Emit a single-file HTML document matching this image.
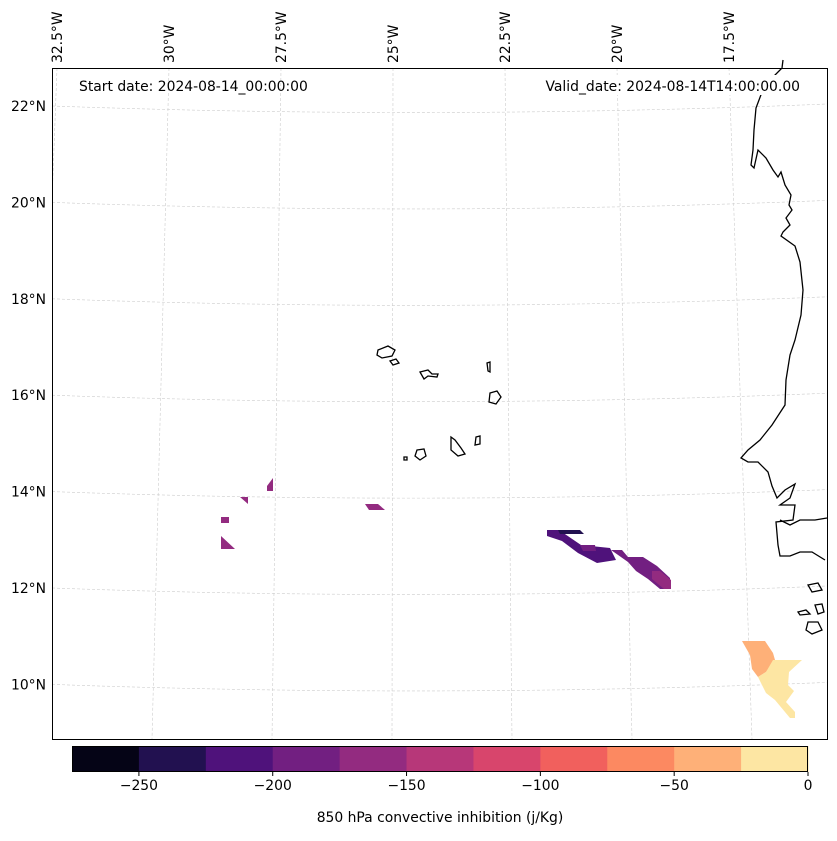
<!DOCTYPE html>
<html><head><meta charset="utf-8"><style>
body{margin:0;background:#fff;font-family:"Liberation Sans","DejaVu Sans",sans-serif}
svg text{font-family:"DejaVu Sans","Liberation Sans",sans-serif;font-size:13.9px;fill:#000}
</style></head><body>
<svg id="c" width="837" height="836">
<defs><clipPath id="mapclip"><rect x="52" y="68" width="776" height="672"/></clipPath></defs>
<rect x="0" y="0" width="837" height="836" fill="#fff"/>
<g id="grid" clip-path="url(#mapclip)"></g>
<g id="patches"></g>
<g fill="none" stroke="#000" stroke-width="1.3" clip-path="url(#mapclip)">
<path d="M782,68 L770,80 L762,92 L756,108 L754,130 L753,150 L751,165 L754,168 L758,150 L766,158 L773,170 L778,177 L781,172 L785,185 L791,195 L789,205 L792,210 L786,218 L790,225 L783,232 L781,236 L795,246 L800,262 L803,290 L801,315 L795,340 L790,355 L786,380 L785,405 L772,425 L760,440 L748,450 L741,458 L748,462 L758,462 L768,472 L772,486 L777,498 L785,490 L795,484 L790,498 L780,505 L795,505 L793,520 L776,522 L778,545 L780,556 L790,556 L800,552 L812,552 L825,560 M827,518 L815,520 L800,520 L790,525 L780,520 M808,585 L818,583 L822,590 L812,592 Z"/>
<path d="M798,612 L806,610 L810,614 L800,615 Z M808,622 L818,622 L822,630 L812,634 L806,630 Z M815,605 L822,604 L824,612 L818,614 Z"/>
<path d="M378,350 L388,346 L395,350 L392,356 L382,358 L377,355 Z"/>
<path d="M390,361 L396,359 L399,363 L393,365 Z"/>
<path d="M420,372 L428,370 L432,374 L438,374 L437,377 L428,376 L424,379 Z"/>
<path d="M487,363 L490,362 L490,372 L488,371 Z"/>
<path d="M490,393 L497,391 L501,397 L496,404 L489,402 Z"/>
<path d="M451,437 L455,440 L461,448 L465,454 L458,456 L451,450 Z"/>
<path d="M476,437 L480,436 L480,444 L475,445 Z"/>
<path d="M417,450 L424,449 L426,456 L420,460 L415,456 Z"/>
<path d="M404,457 L407,457 L407,460 L404,460 Z"/>
</g>
<line x1="783" y1="60" x2="782" y2="68" stroke="#000" stroke-width="1.3"/>
<rect x="52.5" y="68.5" width="775" height="671" fill="none" stroke="#000" stroke-width="1"/>
<text x="79" y="91">Start date: 2024-08-14_00:00:00</text>
<rect x="542" y="75" width="262" height="20" fill="#fff"/>
<text x="800" y="91" text-anchor="end">Valid_date: 2024-08-14T14:00:00.00</text>
<g id="labels"></g>
<g id="cbar"></g>
<text x="440" y="822" text-anchor="middle">850 hPa convective inhibition (j/Kg)</text>
</svg>
<script>
const NS="http://www.w3.org/2000/svg";
const latTicks=[22,20,18,16,14,12,10];
const latLabels=["22°N","20°N","18°N","16°N","14°N","12°N","10°N"];
const lonTicks=[-32.5,-30,-27.5,-25,-22.5,-20,-17.5];
const lonLabels=["32.5°W","30°W","27.5°W","25°W","22.5°W","20°W","17.5°W"];
const cbLevels=[-275,-250,-225,-200,-175,-150,-125,-100,-75,-50,-25,0];
const cbColors=["#050416","#221150","#4f127b","#721f81","#932b80","#b73779","#d8456c","#f1605d","#fc8961","#feb078","#fde6a3"];
const cbTicks=[-250,-200,-150,-100,-50,0];
function mk(t,a,p){const e=document.createElementNS(NS,t);for(const k in a)e.setAttribute(k,a[k]);p.appendChild(e);return e;}
const yLat=l=>106+(22-l)*48.2;
const xTop=lo=>393+(lo+25)*44.8;
const xBot=lo=>392+(lo+25)*48;
const g=document.getElementById('grid');
latTicks.forEach((l,i)=>{
 const y=yLat(l);
 const p=mk('path',{d:`M52,${y} Q440,${y+14} 827,${y-2}`,fill:'none',stroke:'#ccc','stroke-width':0.6,'stroke-dasharray':'3,2'},g);
 
 
});
lonTicks.forEach(lo=>{
 const p=mk('line',{x1:xTop(lo),y1:68,x2:xBot(lo),y2:739,stroke:'#ccc','stroke-width':0.6,'stroke-dasharray':'3,2'},g);
 
 
});
const lb=document.getElementById('labels');
latTicks.forEach((l,i)=>{
 const t=mk('text',{x:46,y:yLat(l)+5,'text-anchor':'end'},lb);t.textContent=latLabels[i];
 
 
});
lonTicks.forEach((lo,i)=>{
 const x=xTop(lo)+5;
 const t=mk('text',{x:x,y:63,transform:`rotate(-90 ${x} 63)`},lb);t.textContent=lonLabels[i];
 
 
});
const ps=document.getElementById('patches');
const shapes=[
 ["#932b80","221,536 235,549 221,549"],["#932b80","221,517 229,517 229,523 221,523"],
 ["#932b80","240,497 248,497 248,504"],["#932b80","267,486 273,478 273,491 267,491"],
 ["#932b80","365,504 378,504 385,510 369,510"],
 ["#4f127b","547,530 559,530 581,545 610,548 616,560 597,563 578,553 562,541 547,536"],
 ["#221150","558,530 580,530 584,534 560,534"],
 ["#721f81","580,545 595,545 596,551 583,551"],
 ["#721f81","611,550 622,550 628,557 643,557 657,566 670,578 670,589 660,589 648,579 636,571 628,562"],
 ["#932b80","652,571 660,571 671,580 671,589 664,589 652,579"],
 ["#feb078","742,641 765,641 773,653 775,660 766,672 758,677 752,669 750,655"],
 ["#fde6a3","773,660 802,660 789,672 788,685 794,691 786,702 795,712 795,718 790,718 775,700 766,693 758,677 766,672"]
];
shapes.forEach(s=>{const p=mk('polygon',{points:s[1],fill:s[0]},ps);
 
 });
const cb=document.getElementById('cbar');
const cx0=72,cx1=808,cy=746,ch=26;
const cxs=v=>cx0+(v-cbLevels[0])/(cbLevels[cbLevels.length-1]-cbLevels[0])*(cx1-cx0);
cbColors.forEach((c,i)=>{const r=mk('rect',{x:cxs(cbLevels[i]),y:cy,width:cxs(cbLevels[i+1])-cxs(cbLevels[i])+0.5,height:ch,fill:c},cb);
 
 });
const fr=mk('rect',{x:cx0+0.5,y:cy+0.5,width:cx1-cx0-1,height:ch-1,fill:'none',stroke:'#000','stroke-width':1},cb);


cbTicks.forEach(v=>{const x=cxs(v);
 const l=mk('line',{x1:x,y1:cy+ch,x2:x,y2:cy+ch+4,stroke:'#000'},cb);
 
 
 const t=mk('text',{x:x,y:cy+ch+18,'text-anchor':'middle'},cb);t.textContent=(v<0?'\u2212'+(-v):v);
 
 });
</script>
</body></html>
